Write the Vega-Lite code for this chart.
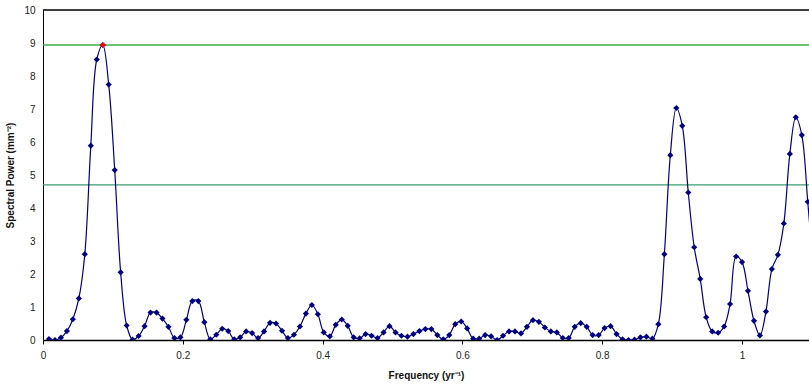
{
  "$schema": "https://vega.github.io/schema/vega-lite/v6.json",
  "autosize": "none",
  "width": 766,
  "height": 330,
  "padding": {"left": 43, "top": 10, "right": 0, "bottom": 44},
  "background": "white",
  "config": {
    "view": {"stroke": null},
    "font": "Liberation Sans",
    "axis": {"labelFont": "Liberation Sans", "titleFont": "Liberation Sans", "labelColor": "#222", "titleColor": "#111", "labelFontSize": 10, "titleFontSize": 10, "titleFontWeight": "bold", "grid": false, "domainColor": "#000", "tickColor": "#000"}
  },
  "datasets": {
    "spec": [
      {"f": 0.0085, "p": 0.03}, {"f": 0.0171, "p": 0.0}, {"f": 0.0256, "p": 0.07}, {"f": 0.0342, "p": 0.27},
      {"f": 0.0427, "p": 0.63}, {"f": 0.0513, "p": 1.26}, {"f": 0.0598, "p": 2.6}, {"f": 0.0684, "p": 5.89},
      {"f": 0.0769, "p": 8.5}, {"f": 0.0855, "p": 8.94}, {"f": 0.0940, "p": 7.74}, {"f": 0.1026, "p": 5.15},
      {"f": 0.1111, "p": 2.05}, {"f": 0.1197, "p": 0.44}, {"f": 0.1282, "p": 0.01}, {"f": 0.1368, "p": 0.12},
      {"f": 0.1453, "p": 0.42}, {"f": 0.1538, "p": 0.83}, {"f": 0.1624, "p": 0.83}, {"f": 0.1709, "p": 0.65},
      {"f": 0.1795, "p": 0.4}, {"f": 0.1880, "p": 0.06}, {"f": 0.1966, "p": 0.08}, {"f": 0.2051, "p": 0.61},
      {"f": 0.2137, "p": 1.18}, {"f": 0.2222, "p": 1.18}, {"f": 0.2308, "p": 0.54}, {"f": 0.2393, "p": 0.02},
      {"f": 0.2479, "p": 0.16}, {"f": 0.2564, "p": 0.34}, {"f": 0.2650, "p": 0.27}, {"f": 0.2735, "p": 0.02},
      {"f": 0.2821, "p": 0.08}, {"f": 0.2906, "p": 0.26}, {"f": 0.2991, "p": 0.21}, {"f": 0.3077, "p": 0.06},
      {"f": 0.3162, "p": 0.26}, {"f": 0.3248, "p": 0.52}, {"f": 0.3333, "p": 0.5}, {"f": 0.3419, "p": 0.28},
      {"f": 0.3504, "p": 0.06}, {"f": 0.3590, "p": 0.16}, {"f": 0.3675, "p": 0.41}, {"f": 0.3761, "p": 0.8},
      {"f": 0.3846, "p": 1.06}, {"f": 0.3932, "p": 0.78}, {"f": 0.4017, "p": 0.23}, {"f": 0.4103, "p": 0.11},
      {"f": 0.4188, "p": 0.46}, {"f": 0.4274, "p": 0.62}, {"f": 0.4359, "p": 0.43}, {"f": 0.4444, "p": 0.08},
      {"f": 0.4530, "p": 0.05}, {"f": 0.4615, "p": 0.18}, {"f": 0.4701, "p": 0.13}, {"f": 0.4786, "p": 0.06},
      {"f": 0.4872, "p": 0.23}, {"f": 0.4957, "p": 0.42}, {"f": 0.5043, "p": 0.23}, {"f": 0.5128, "p": 0.13},
      {"f": 0.5214, "p": 0.1}, {"f": 0.5299, "p": 0.18}, {"f": 0.5385, "p": 0.27}, {"f": 0.5470, "p": 0.33},
      {"f": 0.5556, "p": 0.33}, {"f": 0.5641, "p": 0.15}, {"f": 0.5726, "p": 0.02}, {"f": 0.5812, "p": 0.15},
      {"f": 0.5897, "p": 0.48}, {"f": 0.5983, "p": 0.56}, {"f": 0.6068, "p": 0.35}, {"f": 0.6154, "p": 0.04},
      {"f": 0.6239, "p": 0.04}, {"f": 0.6325, "p": 0.15}, {"f": 0.6410, "p": 0.11}, {"f": 0.6496, "p": 0.0},
      {"f": 0.6581, "p": 0.13}, {"f": 0.6667, "p": 0.26}, {"f": 0.6752, "p": 0.26}, {"f": 0.6838, "p": 0.2},
      {"f": 0.6923, "p": 0.4}, {"f": 0.7009, "p": 0.6}, {"f": 0.7094, "p": 0.55}, {"f": 0.7179, "p": 0.38},
      {"f": 0.7265, "p": 0.26}, {"f": 0.7350, "p": 0.23}, {"f": 0.7436, "p": 0.06}, {"f": 0.7521, "p": 0.06},
      {"f": 0.7607, "p": 0.4}, {"f": 0.7692, "p": 0.51}, {"f": 0.7778, "p": 0.4}, {"f": 0.7863, "p": 0.15},
      {"f": 0.7949, "p": 0.15}, {"f": 0.8034, "p": 0.36}, {"f": 0.8120, "p": 0.42}, {"f": 0.8205, "p": 0.18},
      {"f": 0.8291, "p": 0.02}, {"f": 0.8376, "p": 0.0}, {"f": 0.8462, "p": 0.01}, {"f": 0.8547, "p": 0.08},
      {"f": 0.8632, "p": 0.1}, {"f": 0.8718, "p": 0.04}, {"f": 0.8803, "p": 0.48}, {"f": 0.8889, "p": 2.6},
      {"f": 0.8974, "p": 5.6}, {"f": 0.9060, "p": 7.03}, {"f": 0.9145, "p": 6.49}, {"f": 0.9231, "p": 4.47},
      {"f": 0.9316, "p": 2.81}, {"f": 0.9402, "p": 1.85}, {"f": 0.9487, "p": 0.69}, {"f": 0.9573, "p": 0.26},
      {"f": 0.9658, "p": 0.22}, {"f": 0.9744, "p": 0.41}, {"f": 0.9829, "p": 1.09}, {"f": 0.9915, "p": 2.53},
      {"f": 1.0000, "p": 2.36}, {"f": 1.0085, "p": 1.49}, {"f": 1.0171, "p": 0.58}, {"f": 1.0256, "p": 0.14},
      {"f": 1.0342, "p": 0.86}, {"f": 1.0427, "p": 2.15}, {"f": 1.0513, "p": 2.58}, {"f": 1.0598, "p": 3.53},
      {"f": 1.0684, "p": 5.64}, {"f": 1.0769, "p": 6.75}, {"f": 1.0855, "p": 6.21}, {"f": 1.0940, "p": 4.19},
      {"f": 1.1026, "p": 2.0}
    ],
    "hlines": [
      {"level": 10, "kind": "frame"},
      {"level": 8.94, "kind": "peak"},
      {"level": 4.7, "kind": "threshold"}
    ]
  },
  "layer": [
    {
      "data": {"name": "hlines"},
      "mark": {"type": "rule", "strokeWidth": 1.3},
      "encoding": {
        "y": {"field": "level", "type": "quantitative", "scale": {"domain": [0, 10], "nice": false},
          "axis": {"title": "Spectral Power (mm⁻²)", "values": [0, 1, 2, 3, 4, 5, 6, 7, 8, 9, 10], "tickCount": 11, "tickSize": 0, "labelPadding": 8, "titlePadding": 8, "domainWidth": 1, "labelOverlap": false, "labelFlush": false}},
        "color": {"field": "kind", "type": "nominal", "legend": null, "scale": {"domain": ["frame", "peak", "threshold"], "range": ["#000000", "#3faa4a", "#3a9f72"]}},
        "strokeDash": {"field": "kind", "type": "nominal", "legend": null, "scale": {"domain": ["frame", "peak", "threshold"], "range": [[1, 0], [1, 0], [1, 0]]}}
      }
    },
    {
      "data": {"name": "spec"},
      "mark": {"type": "line", "interpolate": "catmull-rom", "color": "#000080", "strokeWidth": 1.2, "clip": true},
      "encoding": {
        "x": {"field": "f", "type": "quantitative", "scale": {"domain": [0, 1.0958], "nice": false},
          "axis": {"title": "Frequency (yr⁻¹)", "values": [0, 0.2, 0.4, 0.6, 0.8, 1.0], "format": "~g", "tickSize": 4, "labelPadding": 6, "titlePadding": 10, "domainWidth": 1.5, "labelFlush": false, "labelOverlap": false}},
        "y": {"field": "p", "type": "quantitative",
          "axis": {"title": "Spectral Power (mm⁻²)", "values": [0, 1, 2, 3, 4, 5, 6, 7, 8, 9, 10], "tickCount": 11, "tickSize": 0, "labelPadding": 8, "titlePadding": 8, "domainWidth": 1, "labelOverlap": false, "labelFlush": false}}
      }
    },
    {
      "data": {"name": "spec"},
      "mark": {"type": "point", "shape": "diamond", "filled": true, "size": 38, "color": "#000080", "opacity": 1, "clip": true},
      "encoding": {
        "x": {"field": "f", "type": "quantitative"},
        "y": {"field": "p", "type": "quantitative"}
      }
    },
    {
      "data": {"name": "spec"},
      "transform": [{"filter": "datum.p >= 8.9"}],
      "mark": {"type": "point", "shape": "diamond", "filled": true, "size": 38, "color": "#ff0000", "opacity": 1},
      "encoding": {
        "x": {"field": "f", "type": "quantitative"},
        "y": {"field": "p", "type": "quantitative"}
      }
    }
  ]
}
